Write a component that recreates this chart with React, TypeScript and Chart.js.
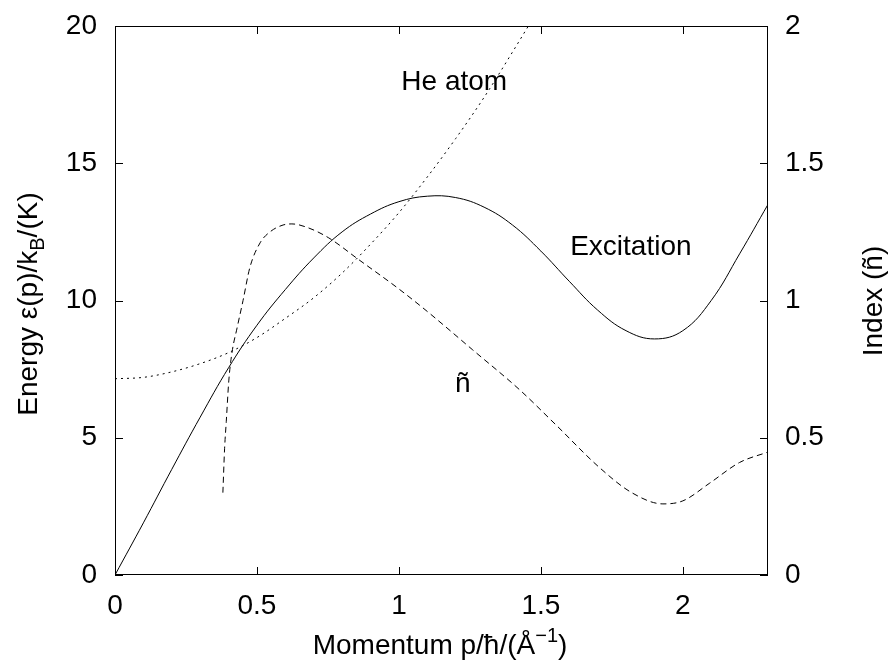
import React, { useEffect, useRef } from "react";
import { Chart, registerables } from "chart.js";

Chart.register(...registerables);

// Excitation (solid), left axis, energy in K
const excitationP = [0, 0.1, 0.2, 0.3, 0.4, 0.5, 0.6, 0.7, 0.8, 0.9, 1.0, 1.1, 1.2, 1.3, 1.4, 1.5, 1.6, 1.7, 1.8, 1.9, 2.0, 2.1, 2.2, 2.3];
const excitationE = [0, 1.9, 3.85, 5.75, 7.55, 9.1, 10.4, 11.55, 12.5, 13.15, 13.6, 13.8, 13.75, 13.4, 12.75, 11.8, 10.7, 9.65, 8.9, 8.6, 8.9, 10.0, 11.7, 13.5];

// He atom (dotted), left axis
const heP = [0, 0.1, 0.2, 0.3, 0.4, 0.5, 0.6, 0.7, 0.8, 0.9, 1.0, 1.1, 1.2, 1.3, 1.4, 1.456];
const heE = [7.15, 7.2, 7.4, 7.7, 8.1, 8.65, 9.35, 10.1, 11.0, 12.05, 13.2, 14.5, 15.9, 17.4, 19.05, 20.0];

// Index n~ (dashed), right axis
const indexP = [0.38, 0.386, 0.392, 0.401, 0.412, 0.43, 0.451, 0.475, 0.511, 0.546, 0.592, 0.623, 0.68, 0.753, 0.857, 1.0, 1.1, 1.26, 1.426, 1.55, 1.708, 1.82, 1.93, 2.0, 2.095, 2.2, 2.3];
const indexN = [0.3, 0.46, 0.56, 0.71, 0.81, 0.9, 1.0, 1.12, 1.21, 1.25, 1.275, 1.279, 1.265, 1.228, 1.15, 1.042, 0.96, 0.82, 0.674, 0.55, 0.39, 0.3, 0.259, 0.27, 0.335, 0.41, 0.448];

const xTicks = [0, 0.5, 1, 1.5, 2];
const yTicks = [0, 5, 10, 15, 20];
const y2Ticks = [0, 0.5, 1, 1.5, 2];

const FONT = "'Liberation Sans', Arial, Helvetica, sans-serif";

const zip = (xs: number[], ys: number[]) => xs.map((x, i) => ({ x, y: ys[i] }));

const decorPlugin = {
  id: "decor",
  afterDraw(chart: any) {
    const ctx = chart.ctx as CanvasRenderingContext2D;
    const { left, right, top, bottom } = chart.chartArea;
    const xs = chart.scales.x;
    const ys = chart.scales.y;
    const y2 = chart.scales.y2;
    ctx.save();
    ctx.strokeStyle = "#000";
    ctx.lineWidth = 1;
    // frame
    ctx.strokeRect(left + 0.5, top + 0.5, right - left - 1, bottom - top - 1);
    const tl = 8;
    ctx.beginPath();
    xTicks.forEach((v) => {
      const px = Math.round(xs.getPixelForValue(v)) + 0.5;
      ctx.moveTo(px, bottom);
      ctx.lineTo(px, bottom - tl);
      ctx.moveTo(px, top);
      ctx.lineTo(px, top + tl);
    });
    yTicks.forEach((v) => {
      const py = Math.round(ys.getPixelForValue(v)) + 0.5;
      ctx.moveTo(left, py);
      ctx.lineTo(left + tl, py);
    });
    y2Ticks.forEach((v) => {
      const py = Math.round(y2.getPixelForValue(v)) + 0.5;
      ctx.moveTo(right, py);
      ctx.lineTo(right - tl, py);
    });
    ctx.stroke();

    ctx.fillStyle = "#000";
    const big = `28px ${FONT}`;
    const small = `20px ${FONT}`;
    ctx.font = big;
    ctx.textBaseline = "alphabetic";
    ctx.textAlign = "center";
    // annotations
    ctx.fillText("He atom", xs.getPixelForValue(1.195), ys.getPixelForValue(17.67));
    ctx.fillText("Excitation", xs.getPixelForValue(1.817), ys.getPixelForValue(11.66));
    ctx.fillText("ñ", xs.getPixelForValue(1.225), ys.getPixelForValue(6.67));

    // x title with superscript
    ctx.textAlign = "left";
    const p1 = "Momentum p/ħ/(Å";
    const p2 = "−1";
    const p3 = ")";
    ctx.font = big;
    const w1 = ctx.measureText(p1).width;
    const w3 = ctx.measureText(p3).width;
    ctx.font = small;
    const w2 = ctx.measureText(p2).width;
    const total = w1 + w2 + w3;
    const x0 = 440 - total / 2;
    const base = 654;
    ctx.font = big;
    ctx.fillText(p1, x0, base);
    ctx.font = small;
    ctx.fillText(p2, x0 + w1, base - 12);
    ctx.font = big;
    ctx.fillText(p3, x0 + w1 + w2, base);

    // left y title with subscript
    ctx.save();
    ctx.translate(37, 304);
    ctx.rotate(-Math.PI / 2);
    const q1 = "Energy ε(p)/k";
    const q2 = "B";
    const q3 = "/(K)";
    ctx.font = big;
    const v1 = ctx.measureText(q1).width;
    const v3 = ctx.measureText(q3).width;
    ctx.font = small;
    const v2 = ctx.measureText(q2).width;
    const tot2 = v1 + v2 + v3;
    const sx = -tot2 / 2;
    ctx.font = big;
    ctx.fillText(q1, sx, 0);
    ctx.font = small;
    ctx.fillText(q2, sx + v1, 7);
    ctx.font = big;
    ctx.fillText(q3, sx + v1 + v2, 0);
    ctx.restore();

    // right title
    ctx.save();
    ctx.translate(882, 301);
    ctx.rotate(-Math.PI / 2);
    ctx.font = big;
    ctx.textAlign = "center";
    ctx.fillText("Index (ñ)", 0, 0);
    ctx.restore();

    ctx.restore();
  },
};

export default function App() {
  const ref = useRef<HTMLCanvasElement>(null);
  useEffect(() => {
    if (!ref.current) return;
    const tickFont = { family: FONT, size: 28 };
    const chart = new Chart(ref.current, {
      type: "line",
      data: {
        datasets: [
          {
            label: "Excitation",
            data: zip(excitationP, excitationE),
            yAxisID: "y",
            borderColor: "#000",
            borderWidth: 1,
            pointRadius: 0,
            tension: 0.4,
          },
          {
            label: "He atom",
            data: zip(heP, heE),
            yAxisID: "y",
            borderColor: "#000",
            borderWidth: 1,
            borderDash: [2, 4],
            pointRadius: 0,
            cubicInterpolationMode: "monotone",
          },
          {
            label: "ñ",
            data: zip(indexP, indexN),
            yAxisID: "y2",
            borderColor: "#000",
            borderWidth: 1,
            borderDash: [6, 4],
            pointRadius: 0,
            cubicInterpolationMode: "monotone",
          },
        ],
      },
      options: {
        animation: false,
        responsive: false,
        maintainAspectRatio: false,
        parsing: false as any,
        layout: { padding: { top: 26, left: 0, right: 0, bottom: 0 } },
        plugins: { legend: { display: false }, tooltip: { enabled: false } },
        scales: {
          x: {
            type: "linear",
            min: 0,
            max: 2.3,
            grid: { display: false, drawTicks: false },
            border: { display: false },
            ticks: {
              stepSize: 0.5,
              includeBounds: false,
              color: "#000",
              font: tickFont,
              padding: 14,
              maxRotation: 0,
              callback: (v: any) => String(v),
            },
            afterFit: (s: any) => { s.height = 94; s.paddingLeft = 0; s.paddingRight = 0; },
          },
          y: {
            type: "linear",
            position: "left",
            min: 0,
            max: 20,
            grid: { display: false, drawTicks: false },
            border: { display: false },
            ticks: { stepSize: 5, color: "#000", font: tickFont, padding: 18 },
            afterFit: (s: any) => { s.width = 115; s.paddingTop = 0; s.paddingBottom = 0; },
          },
          y2: {
            type: "linear",
            position: "right",
            min: 0,
            max: 2,
            grid: { display: false, drawTicks: false },
            border: { display: false },
            ticks: { stepSize: 0.5, color: "#000", font: tickFont, padding: 17, callback: (v: any) => String(v) },
            afterFit: (s: any) => { s.width = 123; s.paddingTop = 0; s.paddingBottom = 0; },
          },
        },
      },
      plugins: [decorPlugin],
    } as any);
    return () => chart.destroy();
  }, []);
  return (
    <div style={{ position: "fixed", left: 0, top: 0, width: 891, height: 669, background: "#fff" }}>
      <canvas ref={ref} width={891} height={669} style={{ width: 891, height: 669, display: "block" }} />
    </div>
  );
}
